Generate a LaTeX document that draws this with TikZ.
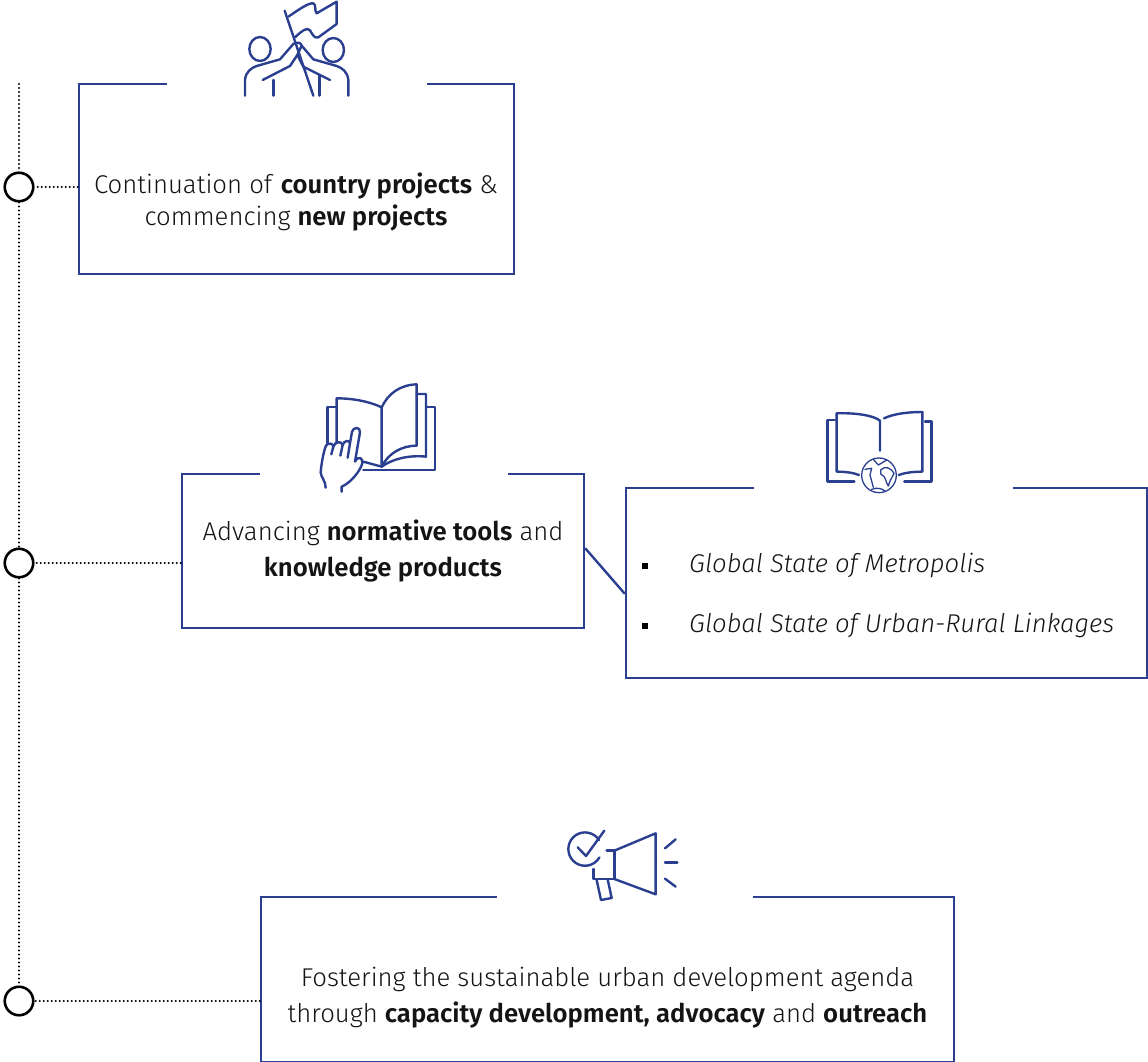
\documentclass[tikz,border=0pt]{standalone}
\usepackage{fontspec}
\setmainfont{Fira Sans}[UprightFont=* Light,BoldFont=* SemiBold,ItalicFont=* Light Italic]
\usetikzlibrary{calc}
\definecolor{navy}{HTML}{2A3F8F}
\tikzset{
 boxn/.style={draw=navy,line width=2.4pt,minimum width=#1,inner sep=0pt,fill=white},
 txt/.style={align=center,font=\fontsize{25.7}{#1}\selectfont,inner sep=0pt,text=black!92},
 item/.style={anchor=west,font=\fontsize{25.7}{28}\selectfont\itshape,inner sep=0pt,text=black!92},
 bul/.style={anchor=center,fill=black,minimum size=5.5pt,inner sep=0pt},
 ring/.style={circle,draw=black,line width=2.6pt,minimum size=28.5pt,inner sep=0pt,fill=white},
 dots/.style={line width=2.2pt,dash pattern=on 0pt off 4pt,line cap=round},
 ico/.style={draw=navy,line width=2.4pt,line cap=round,line join=round},
 icot/.style={draw=navy,line width=1.3pt,line cap=round,line join=round},
 gapl/.style={draw=white,line width=4pt},
}
\begin{document}
\begin{tikzpicture}[x=1pt,y=-1pt]
\useasboundingbox (0,0) rectangle (1148,1062);
% boxes
\node[boxn=435pt,minimum height=190pt] (b1) at (296.5,179) {};
\node[boxn=402pt,minimum height=154pt] (b2) at (383,551) {};
\node[boxn=521pt,minimum height=190pt] (b3) at (886.5,583) {};
\node[boxn=693pt,minimum height=165pt] (b4) at (607.5,979.5) {};
% gaps in the top edges
\draw[gapl] (167,84) -- (427,84);
\draw[gapl] (260,474) -- (508,474);
\draw[gapl] (754,488) -- (1013,488);
\draw[gapl] (497,897) -- (753,897);
% link
\coordinate (l1) at ($(b2.south east)+(0,-81)$);
\coordinate (l2) at ($(b3.north west)+(0,107)$);
\draw[draw=navy,line width=2.4pt] (l1) -- (l2);
% timeline
\node[ring] (r1) at (19,187) {};
\node[ring] (r2) at (19,563) {};
\node[ring] (r3) at (19,1001) {};
\coordinate (top) at (19,84);
\draw[dots] (top) -- (r1.north);
\draw[dots] (r1.south) -- (r2.north);
\draw[dots] (r2.south) -- (r3.north);
\draw[dots] (r1.east -| b1.west) -- (r1.east);
\draw[dots] (r2.east -| b2.west) -- (r2.east);
\draw[dots] (r3.east -| b4.west) -- (r3.east);
% texts
\node[txt=32] (t1) at (296,202) {Continuation of \textbf{country projects} \&\\commencing \textbf{new projects}};
\node[txt=36] (t2) at (383,551) {Advancing \textbf{normative tools} and\\\textbf{knowledge products}};
\node[txt=36] (t3) at (607.5,998) {Fostering the sustainable urban development agenda\\through \textbf{capacity development, advocacy} and \textbf{outreach}};
\node[bul] (k1) at (645,566) {};
\node[bul] (k2) at (645,626) {};
\node[item] (i1) at (689,565) {Global State of Metropolis};
\node[item] (i2) at (689,625) {Global State of Urban-Rural Linkages};
% icon: people with flag
\begin{scope}[shift={(220,0)},x=0.3333pt,y=-0.3333pt]
\draw[ico] (194,32) -- (280,287);
\draw[ico] (205,50) .. controls (235,30) and (265,8) .. (280,10) .. controls (290,14) and (282,32) .. (290,40) -- (350,5) -- (350,72) -- (295,112) .. controls (275,118) and (275,85) .. (262,87) .. controls (250,88) and (235,103) .. (225,112);
\draw[ico] (120,147) ellipse [x radius=32,y radius=36];
\draw[ico] (340,150) ellipse [x radius=32,y radius=36];
\draw[ico] (75,287) -- (75,240) .. controls (77,215) and (95,203) .. (110,198) -- (180,178) -- (220,132) .. controls (228,124) and (245,128) .. (245,137) -- (232,165) -- (210,198) -- (128,240);
\draw[ico] (385,287) -- (385,240) .. controls (383,215) and (365,203) .. (350,198) -- (280,178) -- (245,137);
\draw[ico] (232,165) -- (250,200) -- (330,240);
\draw[ico] (160,240) -- (160,287);
\draw[ico] (298,225) -- (298,287);
\end{scope}
% icon: book and hand
\begin{scope}[shift={(300,375)},x=0.3333pt,y=-0.3333pt]
\draw[ico] (110,96) -- (82,96) -- (82,205);
\draw[ico] (190,285) -- (405,285) -- (405,96) -- (378,96);
\draw[ico] (110,205) -- (110,70) .. controls (160,70) and (210,80) .. (245,97) -- (245,275);
\draw[ico] (245,97) .. controls (265,55) and (300,30) .. (350,28) -- (350,212) .. controls (305,212) and (265,235) .. (245,275);
\draw[ico] (350,57) -- (378,57) -- (378,245) .. controls (330,240) and (280,250) .. (245,275);
\draw[ico] (190,260) -- (245,275);
\draw[ico] (77,338) .. controls (78,320) and (62,305) .. (62,292) .. controls (64,265) and (72,225) .. (78,212) .. controls (85,202) and (100,205) .. (100,215) -- (94,238);
\draw[ico] (100,215) .. controls (105,198) and (125,198) .. (128,210) -- (121,242);
\draw[ico] (128,210) .. controls (132,195) and (150,195) .. (150,205) -- (143,248);
\draw[ico] (150,205) -- (156,170) .. controls (160,155) and (182,155) .. (180,172) -- (165,260) .. controls (175,240) and (190,250) .. (187,265) .. controls (180,290) and (150,325) .. (125,335) -- (125,350);
\end{scope}
% icon: book and globe
\begin{scope}[shift={(810,400)},x=0.3333pt,y=-0.3333pt]
\draw[ico] (75,60) -- (53,60) -- (53,245) -- (133,245);
\draw[ico] (80,40) -- (80,215) .. controls (105,215) and (130,218) .. (147,225);
\draw[ico] (80,40) .. controls (130,38) and (190,45) .. (210,62) -- (210,152);
\draw[ico] (222,55) .. controls (250,42) and (290,36) .. (337,36) -- (337,215) .. controls (310,215) and (285,218) .. (266,225);
\draw[ico] (345,64) -- (364,64) -- (364,245) -- (283,245);
\draw[icot] (207,226) circle [radius=52];
\draw[icot] (165,208) -- (185,205) -- (180,225) -- (190,262);
\draw[icot] (190,178) -- (205,195) -- (230,180);
\draw[icot] (212,210) .. controls (225,195) and (245,205) .. (252,220) .. controls (245,235) and (240,240) .. (235,258) .. controls (225,245) and (230,230) .. (212,222) -- cycle;
\draw[icot] (185,268) .. controls (200,262) and (215,265) .. (225,273);
\end{scope}
% icon: megaphone
\begin{scope}[shift={(555,820)},x=0.3333pt,y=-0.3333pt]
\draw[ico] (132,60) arc [start angle=-33,end angle=-330,radius=50];
\draw[ico] (68,82) -- (93,108) -- (148,32);
\draw[ico] (155,92) -- (178,92) -- (178,177) -- (116,177) -- (116,147);
\draw[ico] (178,92) -- (302,40) -- (302,223) -- (178,177);
\draw[ico] (125,180) -- (138,240) -- (170,234) -- (158,178);
\draw[ico] (330,85) -- (362,58);
\draw[ico] (330,128) -- (367,128);
\draw[ico] (330,176) -- (362,200);
\end{scope}
\end{tikzpicture}
\end{document}
